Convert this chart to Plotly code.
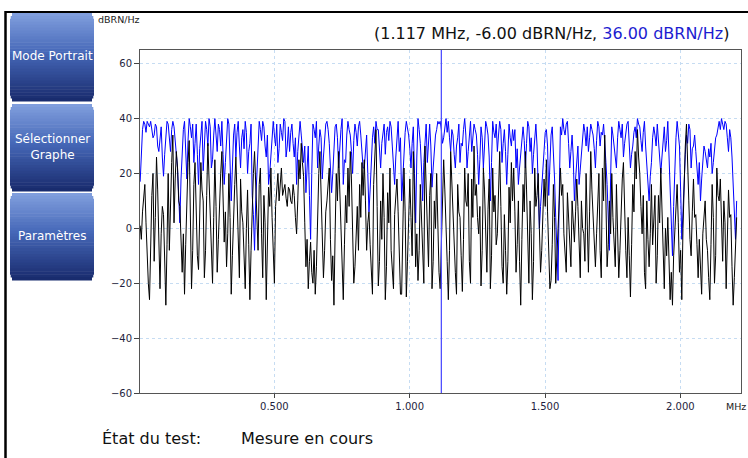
import plotly.graph_objects as go

# ---- data ----
FREQ_START_MHZ = 0.0043125
FREQ_STEP_MHZ = 0.0043125
CURSOR_MHZ = 1.117
CURSOR_BLACK = -6.00
CURSOR_BLUE = 36.00

black_dbrn = [
    1, -4, 6, 12, 16, 2, -11, -20, -26, -6, 12, 20, -12, 4, 26, 14, -10, -22, -2, 8, 5, -12, -28, -6, 20, -8, 10, 24, 34, 2, 18, 28,
    22, 10, 8, -4, -16, -2, -24, -6, 15, 24, 32, 6, -22, -8, 16, 24, 3, -10, -15, 6, 24, 14, 10, -18, -8, 12, 31, 18, 5, -12, -20, 4,
    25, 8, -16, -4, 12, 20, 28, 10, -5, 6, -14, -2, 20, 4, -24, -10, 8, 16, 26, 12, -10, -18, 18, 6, 2, -14, -22, 0, 14, -6, -26, -8,
    10, 20, 28, 16, 5, -8, 16, 22, -2, -18, 12, 2, -26, -10, 15, 8, 22, 4, -13, -20, 8, 14, 20, 10, 18, 22, 12, 14, 16, 11, 8, 15,
    14, 10, 9, 16, 12, 4, -2, 10, 25, 18, 31, 24, 19, 2, -14, -4, -22, -12, -5, -16, -20, -8, -24, -14, 10, 20, 28, 12, 2, -18, -8, 6,
    10, 16, 22, -4, -19, -10, -28, -2, 20, 10, 28, 14, 0, -14, -26, -6, 12, 2, 22, 8, 28, 18, -4, -20, -14, -2, 8, -8, 16, 4, 24, 12,
    25, 10, -8, 2, 6, -6, -14, -24, 16, 26, 36, 8, -21, -12, 10, -4, 20, 4, -26, -14, 13, 2, 22, -8, -14, -22, 5, 14, 18, 6, -10, -24,
    -24, -4, 22, 6, -25, -12, 10, 18, 4, -10, 28, 14, -14, -2, -19, -8, 16, 6, -8, -20, 30, 12, 0, -14, 12, 20, -22, -12, 10, 0, 20, 2,
    -16, -22, -6, 10, 25, 14, 4, -12, -26, -8, 28, 16, 4, -6, -16, -24, 16, 6, 4, -10, -23, -4, 22, 10, 8, 20, -12, -20, 18, 4, 30, 12,
    16, 4, -2, 8, -21, -8, 22, 14, -5, -16, 7, 18, -22, -10, 22, 6, 12, -6, -2, 10, 28, 8, -14, -20, 5, -8, -24, -12, 15, 2, 24, 10,
    22, 6, -16, -6, 10, -12, -28, -4, 16, 6, 28, 14, -10, -20, 10, -2, -26, -12, 22, 8, 12, 20, 0, -16, -8, 4, 18, 8, 25, 6, -12, -22,
    -19, -6, 16, 4, -20, -12, 0, 10, 22, 12, 16, -2, -8, -16, 13, 2, -4, -14, 10, 4, -5, 6, 18, 8, -7, -18, 10, 0, -2, -12, 20, 6,
    -16, 6, 28, 14, 4, -6, -14, -2, 10, 20, -8, -18, 22, 10, 34, 12, -14, -6, 10, -2, 20, 4, -5, -14, 16, 2, -18, -8, 8, 18, 24, 6,
    -8, -18, 4, -10, -25, -6, 16, 6, 28, 18, 36, 26, 20, 8, -2, 12, -16, -22, 10, -4, -14, -2, 16, -6, 5, 12, -20, -10, 12, 2, 22, 8,
    -14, -22, 0, -10, 4, -12, -26, -16, -28, -10, -2, 8, 16, 2, -16, -8, -26, 0, 22, 30, 38, 20, 10, -4, -10, 6, 18, 4, 5, -6, -18, -4,
    -14, -24, -2, 6, 10, -4, -8, -18, -26, -6, 16, 4, -20, -10, 22, 12, 10, 18, -2, -12, 10, 2, -22, -8, 14, 4, 5, -14, -28, -18, -8, 4,
]

blue_dbrn = [
    17, 30, 36, 39, 38, 35, 39, 38, 37, 39, 36, 33, 34, 38, 37, 30, 28, 33, 37, 26, 19, 27, 34, 39, 38, 32, 28, 36, 39, 37, 32, 24,
    22, 12, 2, 18, 30, 36, 39, 28, 18, 32, 40, 37, 33, 38, 24, 31, 38, 27, 16, 29, 35, 39, 21, 33, 39, 36, 30, 40, 37, 22, 25, 34,
    40, 34, 28, 38, 36, 30, 39, 27, 16, 24, 33, 40, 38, 25, 10, 22, 34, 38, 26, 35, 39, 30, 22, 33, 36, 29, 39, 35, 20, 28, 31, 38,
    12, 5, -8, 10, 22, 33, 39, 36, 32, 39, 37, 30, 26, 34, 16, 20, 28, 36, 39, 34, 30, 38, 24, 29, 38, 35, 32, 40, 39, 26, 30, 37,
    28, 35, 38, 31, 26, 33, 16, 28, 36, 39, 34, 27, 24, 30, 13, 22, 30, 12, -4, 20, 38, 36, 33, 39, 22, 30, 36, 33, 18, 26, 34, 38,
    39, 36, 31, 24, 13, 20, 28, 37, 38, 33, 22, 30, 36, 40, 16, 25, 24, 34, 39, 36, 34, 28, 20, 32, 38, 35, 30, 37, 39, 34, 28, 22,
    22, 30, 34, 20, 6, 14, 24, 33, 37, 31, 39, 36, 36, 28, 22, 31, 34, 38, 27, 35, 37, 32, 39, 37, 30, 24, 16, 26, 35, 39, 28, 33,
    10, 19, 28, 35, 39, 36, 34, 29, 22, 31, 37, 20, 2, 26, 40, 36, 31, 22, 10, 24, 34, 38, 24, 32, 38, 30, 15, 22, 28, 34, 36, 39,
    38, 39, 36, 31, 33, 37, 40, 35, 39, 33, 28, 36, 34, 27, 22, 30, 33, 38, 24, 31, 30, 36, 40, 34, 22, 28, 35, 39, 28, 33, 38, 36,
    34, 27, 16, 25, 37, 33, 22, 30, 39, 37, 34, 26, 10, 24, 39, 35, 33, 38, 28, 34, 39, 36, 24, 31, 36, 28, 16, 27, 38, 33, 30, 36,
    32, 36, 22, 29, 16, 22, 28, 34, 37, 32, 22, 31, 39, 37, 28, 33, 20, 27, 34, 38, 30, 18, 0, 8, 16, 24, 28, 35, 36, 30, 12, 26,
    34, 37, 28, 18, 4, -6, -19, 12, 37, 34, 40, 36, 34, 38, 39, 31, 22, 28, 34, 26, 10, 18, 24, 30, 16, 22, 28, 34, 38, 35, 30, 37,
    28, 33, 38, 36, 34, 29, 22, 32, 39, 37, 30, 35, 34, 38, 28, 24, 16, 4, -8, 18, 37, 34, 30, 27, 22, 33, 39, 36, 33, 38, 26, 31,
    34, 38, 39, 31, 22, 27, 30, 35, 37, 33, 40, 38, 37, 32, 28, 35, 39, 30, 22, 16, 10, 19, 24, 33, 37, 34, 30, 38, 32, 28, 20, 26,
    34, 37, 28, 32, 39, 26, 16, 4, -10, 8, 22, 33, 39, 35, 30, 14, -4, 6, 18, 27, 34, 31, 38, 36, 22, 29, 30, 34, 28, 22, 16, 24,
    10, 18, 24, 30, 28, 25, 22, 29, 26, 31, 20, 24, 28, 33, 34, 37, 39, 36, 40, 38, 36, 39, 38, 33, 28, 36, 33, 26, 14, 6, -4, 10,
]

freq_mhz = [FREQ_START_MHZ + i * FREQ_STEP_MHZ for i in range(len(black_dbrn))]

x_tick_vals = [0.5, 1.0, 1.5, 2.0]
x_tick_text = ["0.500", "1.000", "1.500", "2.000"]
y_tick_vals = [-60, -40, -20, 0, 20, 40, 60]
button_labels = ["Mode Portrait", "Sélectionner<br>Graphe", "Paramètres"]

# ---- layout geometry (pixels) ----
W, H = 748, 458
ML, MR, MT, MB = 140, 7, 50, 65
PW, PH = W - ML - MR, H - MT - MB


def px2x(px):
    return (px - ML) / PW


def py2y(py):
    return (H - MB - py) / PH


FONT = "DejaVu Sans"

fig = go.Figure()
fig.add_trace(go.Scatter(x=freq_mhz, y=blue_dbrn, mode="lines",
                         line=dict(color="#0000ff", width=1), hoverinfo="skip"))
fig.add_trace(go.Scatter(x=freq_mhz, y=black_dbrn, mode="lines",
                         line=dict(color="#000000", width=1), hoverinfo="skip"))

shapes = []
# cursor
shapes.append(dict(type="line", xref="x", yref="paper", x0=CURSOR_MHZ, x1=CURSOR_MHZ,
                   y0=0, y1=1, line=dict(color="#5050ff", width=1.3), layer="above"))
# outer frame
shapes.append(dict(type="line", xref="paper", yref="paper", x0=px2x(5), x1=px2x(W + 2),
                   y0=py2y(12), y1=py2y(12), line=dict(color="#000", width=2)))
shapes.append(dict(type="line", xref="paper", yref="paper", x0=px2x(5.5), x1=px2x(5.5),
                   y0=py2y(11), y1=py2y(H + 2), line=dict(color="#000", width=2.5)))

# gradient buttons
stops = [(0.0, (130, 160, 222)), (0.45, (70, 104, 184)), (1.0, (24, 42, 108))]


def grad(t):
    for (t0, c0), (t1, c1) in zip(stops[:-1], stops[1:]):
        if t0 <= t <= t1:
            f = (t - t0) / (t1 - t0)
            return "rgb(%d,%d,%d)" % tuple(round(a + (b - a) * f) for a, b in zip(c0, c1))
    return "rgb(%d,%d,%d)" % stops[-1][1]


buttons = [(13, 101), (104, 191), (193, 280)]
bx0, bx1 = 10, 94
N = 30
for (by0, by1) in buttons:
    h = (by1 - by0) / N
    for k in range(N):
        inset = 2 if k in (0, N - 1) else (0.7 if k in (1, N - 2) else 0)
        shapes.append(dict(type="rect", xref="paper", yref="paper",
                           x0=px2x(bx0 + inset), x1=px2x(bx1 - inset),
                           y0=py2y(by0 + k * h), y1=py2y(by0 + (k + 1) * h + 0.5),
                           fillcolor=grad((k + 0.5) / N), line=dict(width=0)))

annotations = []
for (by0, by1), lab in zip(buttons, button_labels):
    annotations.append(dict(xref="paper", yref="paper", x=px2x((bx0 + bx1) / 2),
                            y=py2y((by0 + by1) / 2 - 1), text=lab, showarrow=False,
                            font=dict(family=FONT, size=12, color="white"),
                            xanchor="center", yanchor="middle", align="center"))

annotations += [
    dict(xref="paper", yref="paper", x=px2x(731), y=py2y(33),
         text="(1.117 MHz, -6.00 dBRN/Hz, <span style='color:#1c1cd0'>36.00 dBRN/Hz</span>)",
         showarrow=False, xanchor="right", yanchor="middle",
         font=dict(family=FONT, size=16, color="#111")),
    dict(xref="paper", yref="paper", x=px2x(96), y=py2y(20), text="dBRN/Hz",
         showarrow=False, xanchor="left", yanchor="middle",
         font=dict(family=FONT, size=9.5, color="#222")),
    dict(xref="paper", yref="paper", x=px2x(724), y=py2y(406), text="MHz",
         showarrow=False, xanchor="left", yanchor="middle",
         font=dict(family=FONT, size=9.5, color="#222")),
    dict(xref="paper", yref="paper", x=px2x(100), y=py2y(438), text="État du test:",
         showarrow=False, xanchor="left", yanchor="middle",
         font=dict(family=FONT, size=16, color="#111")),
    dict(xref="paper", yref="paper", x=px2x(239), y=py2y(438), text="Mesure en cours",
         showarrow=False, xanchor="left", yanchor="middle",
         font=dict(family=FONT, size=16, color="#111")),
]

fig.update_layout(
    width=W, height=H,
    margin=dict(l=ML, r=MR, t=MT, b=MB, pad=0),
    paper_bgcolor="white", plot_bgcolor="white",
    showlegend=False,
    shapes=shapes, annotations=annotations,
    xaxis=dict(range=[0.0037, 2.224], tickvals=x_tick_vals, ticktext=x_tick_text,
               ticks="outside", ticklen=4, tickcolor="#444", showline=True,
               linecolor="#555", linewidth=1, mirror=True,
               showgrid=True, gridcolor="#c6dcf2", griddash="dot", gridwidth=1,
               zeroline=False, tickfont=dict(family=FONT, size=10, color="#1e1e40")),
    yaxis=dict(range=[-60, 65], tickvals=y_tick_vals, ticks="outside", ticklen=5,
               tickcolor="#444", showline=True, linecolor="#555", linewidth=1,
               mirror=True, showgrid=True, gridcolor="#c6dcf2", griddash="dot",
               gridwidth=1, zeroline=False,
               tickfont=dict(family=FONT, size=10, color="#1e1e40")),
)

fig.write_html("out.html", config={"displayModeBar": False},
               post_script="document.body.style.margin='0';document.body.style.overflow='hidden';")
